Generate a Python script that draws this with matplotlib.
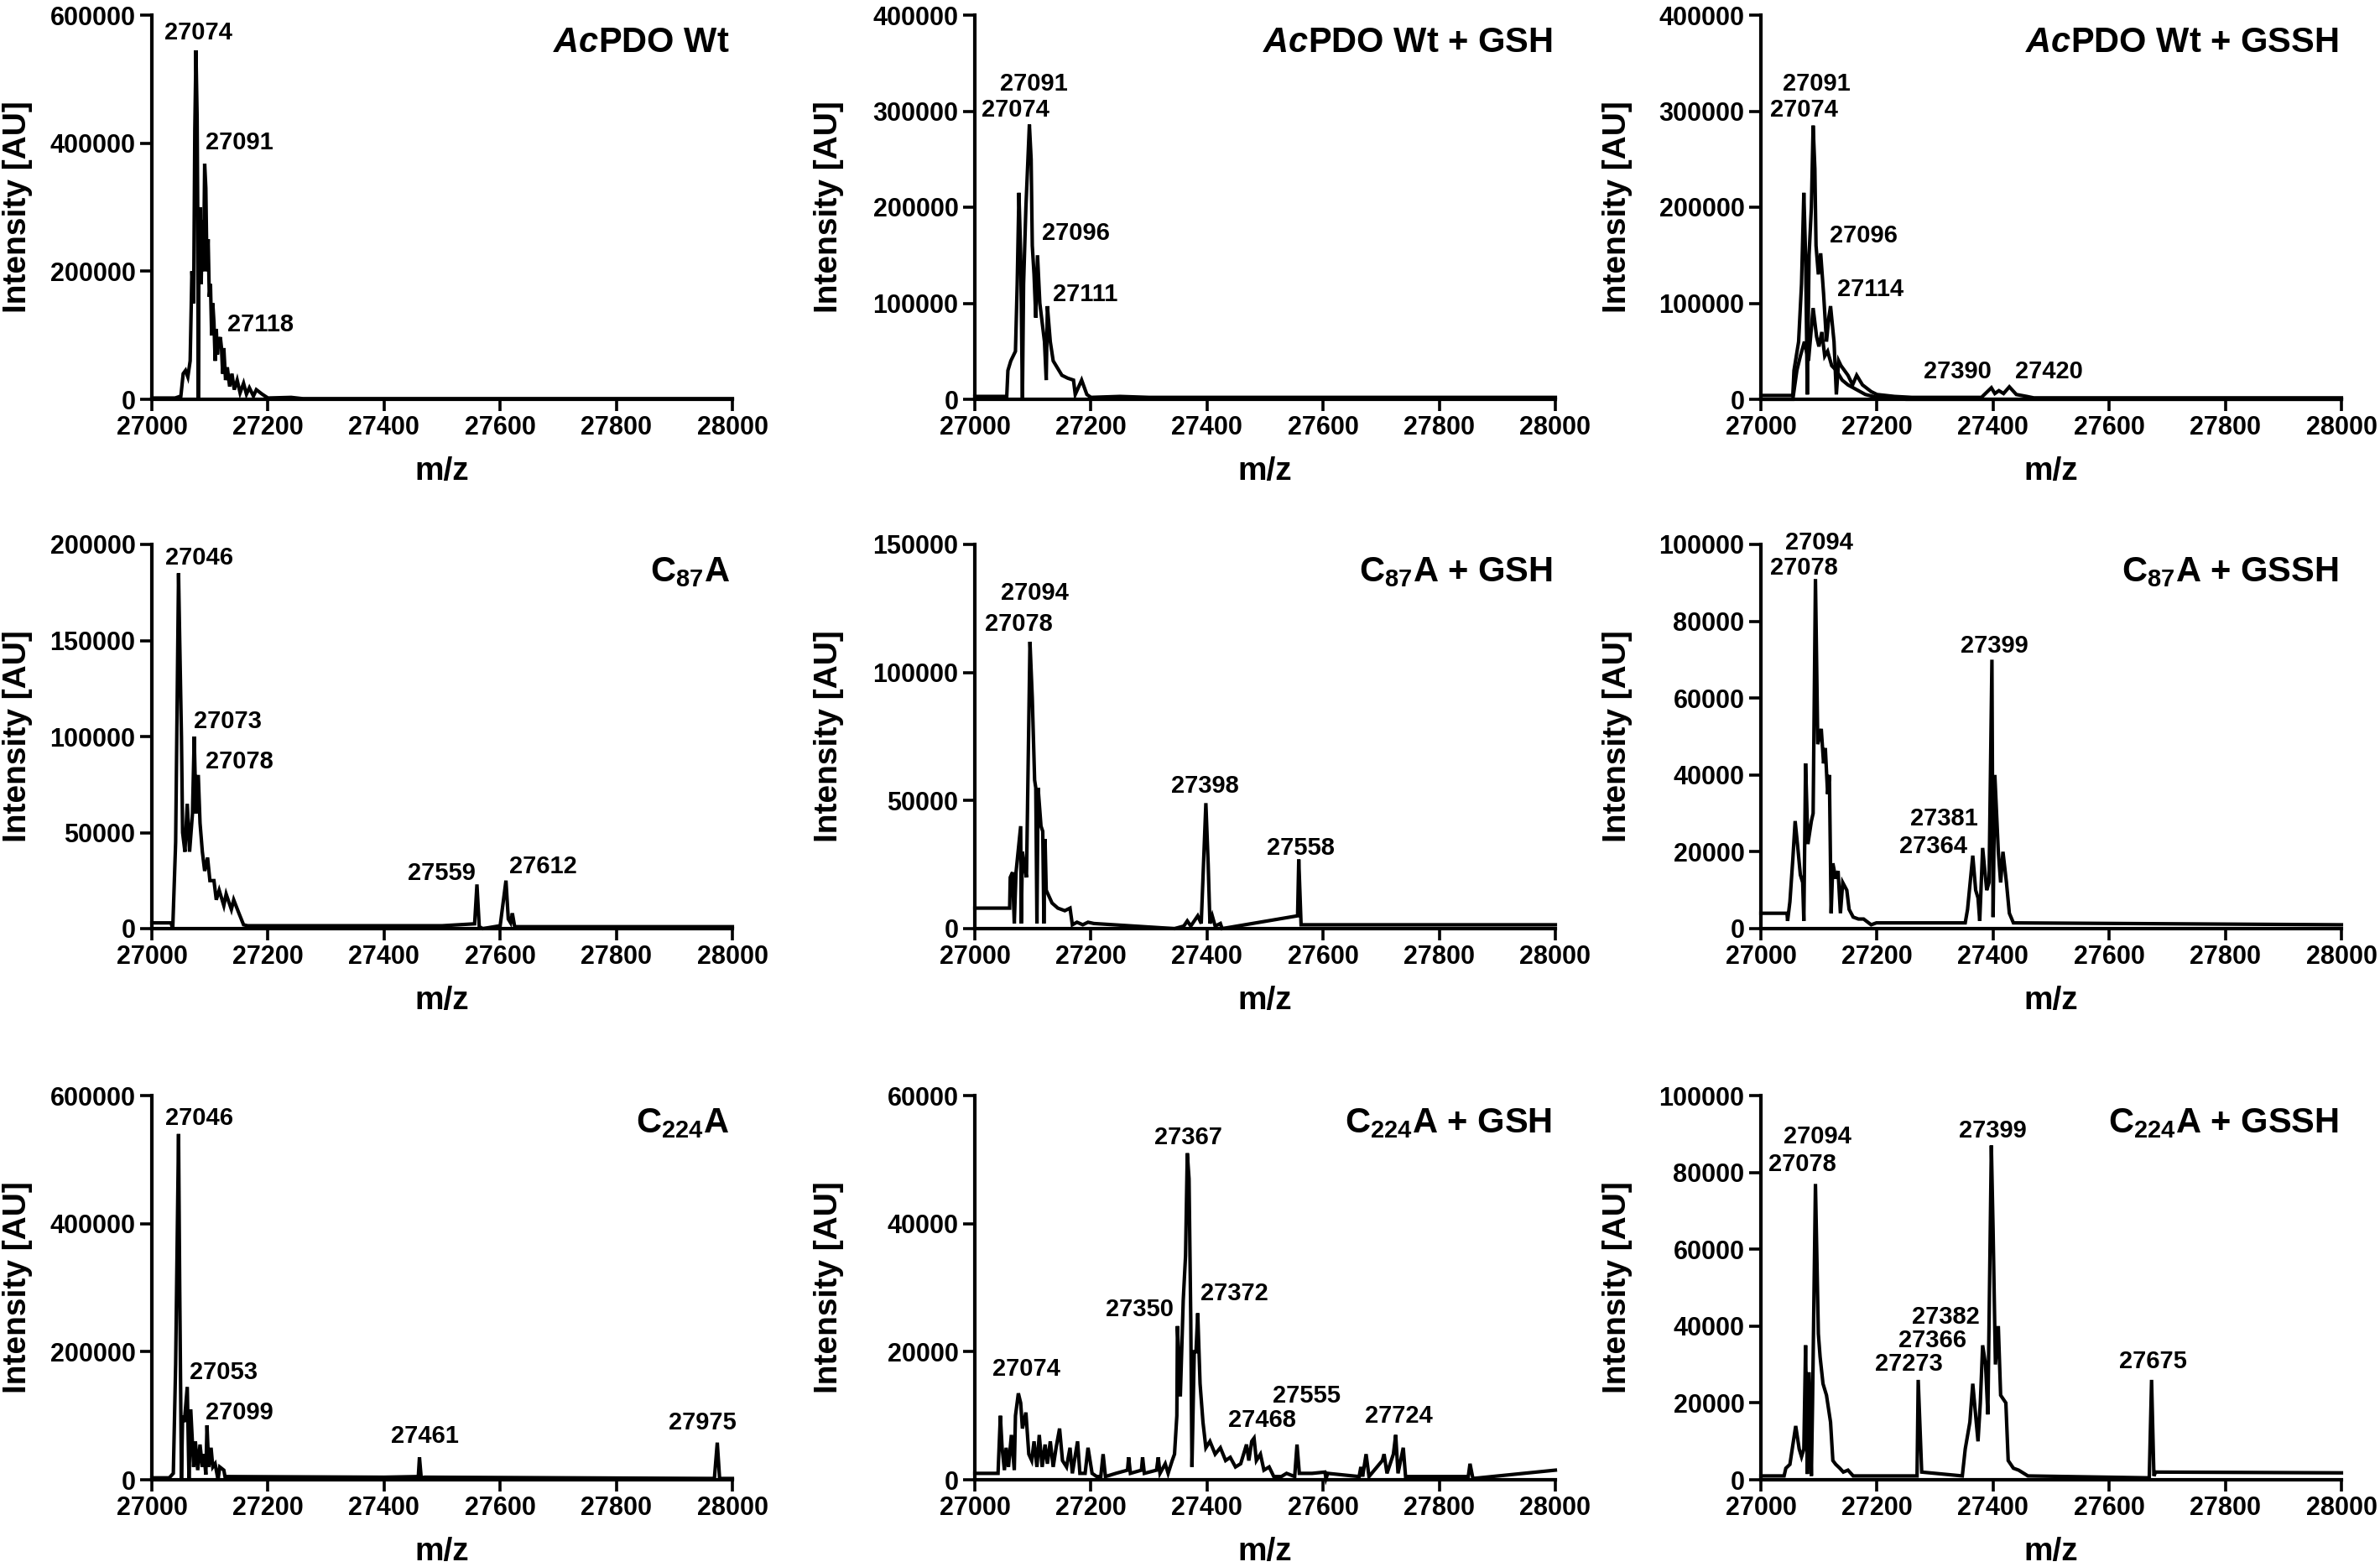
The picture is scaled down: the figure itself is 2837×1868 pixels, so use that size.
import matplotlib
matplotlib.use("Agg")
import matplotlib.pyplot as plt

plt.rcParams["font.family"] = ["Liberation Sans", "DejaVu Sans"]
plt.rcParams["font.weight"] = "bold"
plt.rcParams["mathtext.fontset"] = "custom"
plt.rcParams["mathtext.rm"] = "Liberation Sans:bold"
plt.rcParams["mathtext.bf"] = "Liberation Sans:bold"
plt.rcParams["mathtext.it"] = "Liberation Sans:italic:bold"
plt.rcParams["mathtext.default"] = "rm"

# ---------------- spectra (m/z, intensity) ----------------
WT_MZ = [27000, 27040, 27050, 27054, 27058, 27062, 27066, 27069, 27072, 27074, 27076,
         27078, 27079, 27080, 27081, 27083, 27085, 27087, 27089, 27091, 27093, 27095,
         27097, 27099, 27101, 27103, 27105, 27107, 27109, 27111, 27113, 27115, 27118,
         27120, 27122, 27124, 27127, 27130, 27134, 27138, 27142, 27147, 27152, 27158,
         27163, 27168, 27175, 27180, 27190, 27200, 27240, 27260, 27300, 28000]
WT_INT = [2000, 2000, 5000, 40000, 45000, 35000, 60000, 200000, 150000, 420000, 545000,
          440000, 300000, 0, 200000, 300000, 180000, 280000, 200000, 368000, 330000, 200000,
          250000, 160000, 180000, 100000, 150000, 120000, 60000, 110000, 70000, 90000, 97000,
          80000, 40000, 80000, 30000, 50000, 20000, 40000, 15000, 30000, 10000, 25000,
          8000, 18000, 5000, 15000, 8000, 2000, 3000, 1000, 1000, 1000]

WT_GSH_MZ = [27000, 27055, 27057, 27062, 27070, 27073, 27076, 27079, 27082, 27084, 27088,
             27094, 27097, 27099, 27102, 27105, 27108, 27112, 27116, 27120, 27123, 27125,
             27130, 27135, 27140, 27150, 27160, 27170, 27173, 27184, 27193, 27200, 27250,
             27300, 28000]
WT_GSH_INT = [3000, 3000, 30000, 40000, 50000, 120000, 215000, 150000, 0, 120000, 200000,
              286000, 250000, 160000, 130000, 85000, 150000, 100000, 80000, 60000, 20000, 97000,
              60000, 40000, 35000, 25000, 22000, 20000, 5000, 20000, 5000, 2000, 3000,
              2000, 2000]

WT_GSSH_MZ = [27000, 27055, 27057, 27065, 27070, 27074, 27077, 27080, 27083, 27087, 27090,
              27093, 27095, 27099, 27103, 27108, 27113, 27117, 27120, 27126, 27130, 27134,
              27138, 27150, 27158, 27165, 27175, 27190, 27200, 27230, 27260, 27380, 27397,
              27403, 27410, 27418, 27428, 27440, 27458, 27470, 28000]
WT_GSSH_INT = [4000, 4000, 30000, 60000, 120000, 215000, 150000, 5000, 150000, 200000, 285000,
               240000, 160000, 130000, 152000, 110000, 60000, 85000, 97000, 60000, 5000, 40000,
               35000, 25000, 15000, 25000, 15000, 8000, 5000, 3000, 2000, 2000, 12000,
               6000, 9000, 6000, 13000, 5000, 3000, 1500, 1500]
WT_GSSH_B_MZ = [27000, 27055, 27062, 27068, 27075, 27082, 27090, 27096, 27100, 27105, 27110,
                27115, 27122, 27130, 27140, 27150, 27165, 27180, 27200, 27250, 28000]
WT_GSSH_B_INT = [0, 0, 30000, 45000, 60000, 40000, 95000, 65000, 55000, 70000, 45000,
                 50000, 35000, 30000, 20000, 15000, 10000, 5000, 2000, 0, 0]

C87_MZ = [27000, 27033, 27036, 27041, 27046, 27048, 27051, 27053, 27057, 27061, 27065,
          27070, 27073, 27076, 27080, 27083, 27087, 27091, 27096, 27100, 27107, 27111,
          27116, 27124, 27128, 27137, 27141, 27150, 27158, 27165, 27500, 27556, 27560,
          27564, 27570, 27600, 27610, 27614, 27618, 27621, 27625, 27700, 28000]
C87_INT = [3000, 3000, 0, 45000, 185000, 150000, 100000, 50000, 40000, 65000, 40000,
           60000, 100000, 60000, 80000, 55000, 40000, 30000, 37000, 25000, 25000, 15000,
           20000, 12000, 18000, 10000, 15000, 8000, 2000, 1500, 1500, 2500, 23000,
           1000, 0, 1500, 25000, 5000, 3000, 8000, 1000, 1000, 1000]

C87_GSH_MZ = [27000, 27060, 27061, 27065, 27068, 27071, 27079, 27080, 27082, 27085, 27089,
              27095, 27099, 27103, 27105, 27107, 27109, 27114, 27117, 27119, 27121, 27123,
              27133, 27143, 27155, 27164, 27168, 27176, 27186, 27195, 27205, 27344, 27360,
              27366, 27372, 27384, 27390, 27398, 27402, 27405, 27409, 27414, 27423, 27426,
              27556, 27558, 27562, 28000]
C87_GSH_INT = [8000, 8000, 20000, 22000, 2000, 22000, 40000, 2000, 30000, 25000, 20000,
               112000, 90000, 58000, 55000, 2000, 55000, 40000, 38000, 2000, 35000, 15000,
               10000, 8000, 7000, 8000, 1500, 2500, 1500, 2500, 2000, 0, 1000,
               3000, 1000, 5000, 2000, 49000, 25000, 2000, 5000, 1000, 2000, 0,
               5000, 27000, 1500, 1500]

C87_GSSH_MZ = [27000, 27045, 27046, 27050, 27055, 27059, 27063, 27068, 27072, 27074, 27077,
               27081, 27087, 27090, 27094, 27098, 27104, 27108, 27111, 27115, 27118, 27121,
               27124, 27129, 27133, 27137, 27141, 27148, 27152, 27159, 27168, 27177, 27190,
               27199, 27352, 27356, 27365, 27370, 27374, 27377, 27382, 27389, 27393, 27398,
               27400, 27403, 27409, 27413, 27417, 27423, 27428, 27435, 28000]
C87_GSSH_INT = [4000, 4000, 2000, 7000, 18000, 28000, 22000, 14000, 12000, 2000, 43000,
                22000, 28000, 30000, 91000, 48000, 52000, 43000, 47000, 35000, 40000, 4000,
                17000, 13000, 15000, 4000, 12000, 10000, 5000, 3000, 2500, 2500, 1000,
                1500, 1500, 5000, 19000, 10000, 8000, 2000, 21000, 10000, 12000, 70000,
                3000, 40000, 20000, 12000, 20000, 12000, 4000, 1500, 1000]

C224_MZ = [27000, 27030, 27037, 27041, 27046, 27048, 27051, 27053, 27056, 27061, 27064,
           27067, 27072, 27075, 27079, 27083, 27087, 27090, 27093, 27095, 27098, 27102,
           27105, 27109, 27114, 27117, 27124, 27126, 27400, 27459, 27461, 27464, 27470,
           27969, 27974, 27978, 28000]
C224_INT = [3000, 3000, 10000, 180000, 540000, 300000, 0, 100000, 90000, 145000, 0,
            110000, 20000, 60000, 15000, 55000, 20000, 40000, 8000, 85000, 20000, 50000,
            20000, 25000, 0, 20000, 15000, 5000, 4000, 5000, 35000, 3000, 4000,
            2000, 58000, 2000, 2000]

C224_GSH_MZ = [27000, 27040, 27044, 27047, 27051, 27054, 27058, 27063, 27068, 27070, 27075,
               27079, 27082, 27088, 27093, 27098, 27102, 27107, 27111, 27116, 27121, 27125,
               27130, 27135, 27140, 27146, 27151, 27158, 27164, 27168, 27177, 27181, 27190,
               27195, 27202, 27210, 27217, 27221, 27225, 27243, 27263, 27265, 27268, 27287,
               27289, 27292, 27313, 27316, 27319, 27328, 27333, 27340, 27344, 27348, 27349,
               27354, 27359, 27363, 27366, 27369, 27372, 27374, 27378, 27381, 27384, 27388,
               27393, 27398, 27405, 27414, 27423, 27432, 27440, 27449, 27458, 27468, 27472,
               27477, 27481, 27485, 27492, 27498, 27507, 27515, 27528, 27537, 27551, 27555,
               27559, 27581, 27603, 27605, 27608, 27662, 27665, 27668, 27674, 27679, 27702,
               27705, 27710, 27721, 27725, 27729, 27738, 27742, 27850, 27853, 27858, 28000]
C224_GSH_INT = [1000, 1000, 10000, 5000, 1500, 5000, 2000, 7000, 1500, 10000, 13500,
                12000, 8000, 10500, 4000, 3000, 6000, 2000, 7000, 2000, 5500, 2500,
                6000, 2000, 5000, 8000, 3000, 2000, 5000, 1000, 6000, 1000, 1000,
                5000, 1000, 500, 500, 4000, 500, 1000, 1500, 3500, 1000, 1500,
                3500, 1000, 1500, 3500, 1000, 2500, 1000, 3000, 4000, 10000, 24000,
                13000, 28000, 35000, 51000, 47000, 25000, 2000, 20000, 20000, 26000, 15000,
                9000, 5000, 6000, 4000, 5000, 3000, 3500, 2000, 2500, 5500, 3000,
                6000, 6500, 3000, 4000, 1500, 2000, 500, 500, 1000, 500, 5500,
                1000, 1000, 1200, 200, 1000, 500, 2000, 500, 4000, 500, 3000,
                4000, 1000, 4000, 7000, 1000, 5000, 500, 500, 2500, 200, 1500]

C224_GSSH_MZ = [27000, 27040, 27043, 27050, 27054, 27060, 27066, 27070, 27074, 27077, 27080,
                27083, 27087, 27089, 27094, 27099, 27102, 27107, 27113, 27120, 27124, 27129,
                27136, 27142, 27150, 27159, 27269, 27271, 27277, 27347, 27352, 27360, 27365,
                27374, 27378, 27382, 27387, 27391, 27397, 27400, 27404, 27409, 27413, 27422,
                27426, 27435, 27444, 27460, 27669, 27673, 27677, 27680, 28000]
C224_GSSH_INT = [1000, 1000, 3000, 4000, 8000, 14000, 8000, 6000, 8000, 35000, 1500,
                 28000, 1000, 20000, 77000, 38000, 32000, 25000, 22000, 15000, 5000, 4000,
                 3000, 2000, 2500, 1000, 1000, 26000, 2000, 1000, 8000, 15000, 25000,
                 10000, 20000, 35000, 30000, 17000, 87000, 65000, 30000, 40000, 22000, 20000,
                 5000, 3000, 2500, 1000, 500, 26000, 1000, 2000, 1800]

# ---------------- panel texts ----------------
TITLES = [r"$\mathit{Ac}$PDO Wt", r"$\mathit{Ac}$PDO Wt + GSH", r"$\mathit{Ac}$PDO Wt + GSSH",
          r"C$_{87}$A", r"C$_{87}$A + GSH", r"C$_{87}$A + GSSH",
          r"C$_{224}$A", r"C$_{224}$A + GSH", r"C$_{224}$A + GSSH"]
Y_MAX = [600000, 400000, 400000, 200000, 150000, 100000, 600000, 60000, 100000]
Y_STEP = [200000, 100000, 100000, 50000, 50000, 20000, 200000, 20000, 20000]
X_TICKS = [27000, 27200, 27400, 27600, 27800, 28000]

# peak labels: (text, m/z position, intensity position)
PEAKS = [
    [("27074", 27080, 572000), ("27091", 27151, 401000), ("27118", 27187, 117000)],
    [("27091", 27101, 328000), ("27074", 27070, 301000), ("27096", 27174, 173000),
     ("27111", 27191, 109000)],
    [("27091", 27096, 328000), ("27074", 27074, 301000), ("27096", 27177, 170000),
     ("27114", 27188, 114000), ("27390", 27339, 29000), ("27420", 27496, 29000)],
    [("27046", 27082, 193000), ("27073", 27131, 107800), ("27078", 27151, 86800),
     ("27559", 27499, 29000), ("27612", 27674, 32300)],
    [("27094", 27103, 131000), ("27078", 27075, 119000), ("27398", 27396, 55800),
     ("27558", 27561, 31400)],
    [("27094", 27100, 100400), ("27078", 27074, 93900), ("27399", 27402, 73600),
     ("27381", 27315, 28500), ("27364", 27297, 21300)],
    [("27046", 27082, 565000), ("27053", 27124, 168000), ("27099", 27151, 105000),
     ("27461", 27470, 68000), ("27975", 27948, 89000)],
    [("27074", 27089, 17300), ("27367", 27368, 53500), ("27350", 27284, 26600),
     ("27372", 27447, 29100), ("27468", 27495, 9300), ("27555", 27572, 13100),
     ("27724", 27730, 9900)],
    [("27094", 27098, 89300), ("27078", 27072, 82000), ("27399", 27400, 90800),
     ("27382", 27319, 42400), ("27366", 27295, 36200), ("27273", 27255, 30100),
     ("27675", 27675, 30700)],
]

TRACES = [
    [(WT_MZ, WT_INT)],
    [(WT_GSH_MZ, WT_GSH_INT)],
    [(WT_GSSH_MZ, WT_GSSH_INT), (WT_GSSH_B_MZ, WT_GSSH_B_INT)],
    [(C87_MZ, C87_INT)],
    [(C87_GSH_MZ, C87_GSH_INT)],
    [(C87_GSSH_MZ, C87_GSSH_INT)],
    [(C224_MZ, C224_INT)],
    [(C224_GSH_MZ, C224_GSH_INT)],
    [(C224_GSSH_MZ, C224_GSSH_INT)],
]

# ---------------- layout (pixels of the 2837 x 1868 canvas) ----------------
W, H = 2837, 1868
COL_LEFT = [181, 1162, 2099]
ROW_TOP = [18, 649, 1306]
AX_W, AX_H = 692, 458
YLABEL_OFFSET = [160, 174, 171]   # label centre, px left of the y axis

fig = plt.figure(figsize=(W / 100, H / 100), dpi=100)

for i in range(9):
    r, c = divmod(i, 3)
    ax = fig.add_axes([COL_LEFT[c] / W, (H - ROW_TOP[r] - AX_H) / H, AX_W / W, AX_H / H])
    for mz, inten in TRACES[i]:
        ax.plot(mz, inten, color="black", lw=3.0, solid_joinstyle="miter", clip_on=False)
    ax.set_xlim(27000, 28000)
    ax.set_ylim(0, Y_MAX[i])
    yt = list(range(0, Y_MAX[i] + 1, Y_STEP[i]))
    ax.set_yticks(yt)
    ax.set_yticklabels([str(v) for v in yt])
    ax.set_xticks(X_TICKS)
    ax.set_xticklabels([str(v) for v in X_TICKS])
    for side in ("top", "right"):
        ax.spines[side].set_visible(False)
    for side in ("left", "bottom"):
        ax.spines[side].set_linewidth(3)
    ax.tick_params(axis="both", direction="out", length=10, width=2.6, labelsize=22, pad=4)
    ax.set_xlabel("m/z", fontsize=28, fontweight="bold")
    ax.set_ylabel("Intensity [AU]", fontsize=28, fontweight="bold")
    ax.xaxis.set_label_coords(0.5, -0.148)
    ax.yaxis.label.set_verticalalignment("center")
    ax.yaxis.set_label_coords(-YLABEL_OFFSET[c] / AX_W, 0.5)
    ax.text(0.995, 0.903, TITLES[i], transform=ax.transAxes, ha="right", va="baseline",
            fontsize=30, fontweight="bold")
    for txt, px, py in PEAKS[i]:
        ax.text(px, py, txt, ha="center", va="center", fontsize=21, fontweight="bold")

fig.savefig("out.png", dpi=100)
